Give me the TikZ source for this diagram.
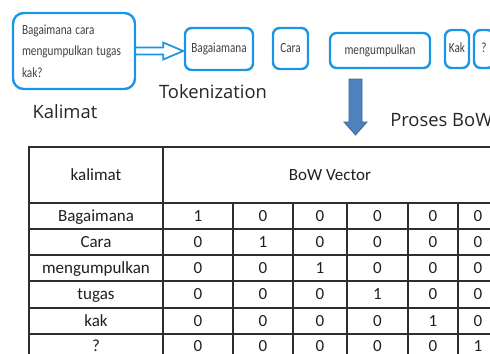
\documentclass[tikz,border=0pt]{standalone}
\usepackage{fontspec}
\setmainfont{Carlito}
\newfontfamily\tabfont{Carlito}
\newfontfamily\boxfont[FakeStretch=0.8]{Carlito}
\newfontfamily\labfont{Open Sans}
\usetikzlibrary{calc}
\definecolor{boxblue}{RGB}{28,150,228}
\definecolor{arrowfill}{RGB}{79,129,189}
\definecolor{arrowline}{RGB}{58,104,160}
\definecolor{gridline}{RGB}{45,45,45}
\newcommand{\wsp}{\hspace{2.6pt}}
\begin{document}
\begin{tikzpicture}[x=0.75pt,y=-0.75pt,
  bluebox/.style={draw=boxblue, line width=1.8pt, rounded corners=5pt, inner sep=0pt},
  tok/.style={bluebox, font=\fontsize{10.5}{12}\boxfont, text=black!75, text height=7.5pt, text depth=2pt},
  lab/.style={font=\fontsize{13.8}{16}\labfont, text=black!85, inner sep=0pt},
  cell/.style={font=\fontsize{12.75}{15}\tabfont, text=black!88, inner sep=0pt, text height=8pt, text depth=0pt},
  grid/.style={draw=gridline, line width=1.1pt},
  hollowarrow/.style={draw=boxblue, line width=1.3pt, line join=miter},
  blockarrow/.style={fill=arrowfill, draw=arrowline, line width=0.6pt, line join=miter}]
\useasboundingbox (0,0) rectangle (490,354);
\clip (0,0) rectangle (490,354);

% sentence box
\node[bluebox, rounded corners=8pt, minimum width=91.5pt, minimum height=57pt,
      align=left, text width=78pt, font=\fontsize{10.5}{16}\boxfont, text=black!75]
  (kal) at (74,51) {Bagaimana\wsp cara\\mengumpulkan\wsp tugas\\kak?};
\node[lab] (kallab) at (65,112) {Kalimat};

% tokens
\node[tok, minimum width=51pt, minimum height=31.5pt] (bag) at (219,49) {Bagaiamana};
\node[tok, minimum width=26.25pt, minimum height=30.75pt] (cara) at (290.5,48.5) {Cara};
\node[tok, minimum width=75pt, minimum height=26.25pt] (meng) at (380,50.5) {mengumpulkan};
\node[tok, minimum width=18pt, minimum height=28.5pt] (kak) at (457,49) {Kak};
\node[tok, minimum width=15pt, minimum height=28.5pt] (qm) at (484,49) {?};
\node[lab] (toklab) at (213,92) {Tokenization};

% hollow arrow from sentence to tokens
\draw[hollowarrow] ($(kal.east)+(0,-3.5)$) -- ++(27,0) -- ++(0,-5) -- ++(20,8.5)
  -- ++(-20,8.5) -- ++(0,-5) -- ++(-27,0);

% block arrow down
\draw[blockarrow] (349,79) -- (362,79) -- (362,122) -- (367,122) -- (355.5,135)
  -- (344,122) -- (349,122) -- cycle;
\node[lab, anchor=west] (bowlab) at (390,120) {Proses BoW};

% table
\draw[grid] (29,147) rectangle (500,362);
\foreach \yy in {203,229,255,281,308,334} \draw[grid] (29,\yy) -- (500,\yy);
\draw[grid] (163,147) -- (163,362);
\foreach \xx in {233,293,347,408,458} \draw[grid] (\xx,203) -- (\xx,362);

\node[cell] (hk) at (96,175) {kalimat};
\node[cell] (hb) at (330,175) {BoW Vector};

\foreach \w/\yy [count=\r] in {Bagaimana/216, Cara/242, mengumpulkan/268, tugas/294.5, kak/321, ?/346} {
  \node[cell] (w\r) at (96,\yy) {\w};
  \foreach \xx [count=\c] in {198,263,320,377.5,433,478} {
    \pgfmathtruncatemacro\vv{\c==\r ? 1 : 0}
    \node[cell] (v\r-\c) at (\xx,\yy) {\vv};
  }
}
\end{tikzpicture}
\end{document}
